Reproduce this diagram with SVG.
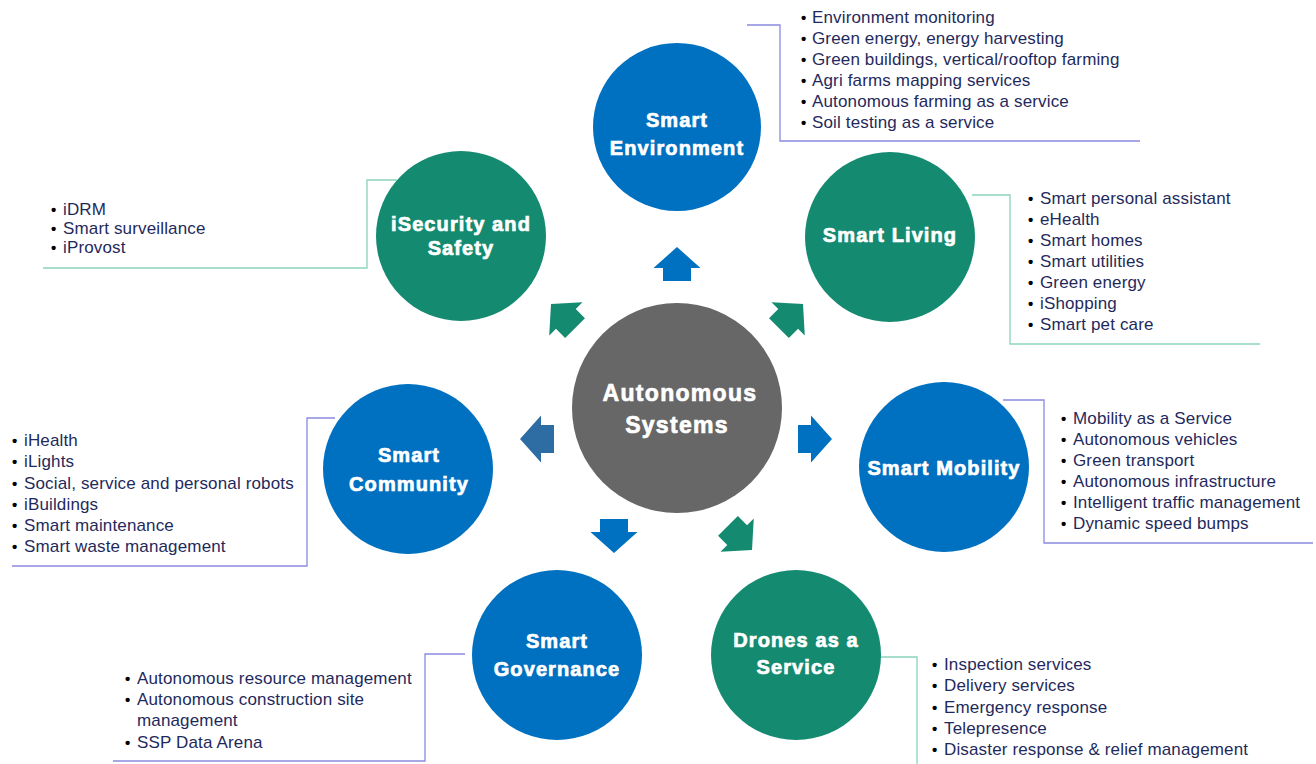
<svg xmlns="http://www.w3.org/2000/svg" width="1316" height="764" viewBox="0 0 1316 764">
<style>
.bl{fill:#0070c0}
.gr{fill:#148a70}
.ttl{font-family:"Liberation Sans",Arial,sans-serif;font-weight:bold;font-size:20px;fill:#fff;stroke:#fff;stroke-width:0.7px;letter-spacing:1.1px;text-anchor:middle}
.ctr{font-size:23px;letter-spacing:1.3px}
.li{font-family:"Liberation Sans",Arial,sans-serif;font-size:17px;letter-spacing:0.15px;fill:#1f2a5c}
.bu{fill:#000;font-weight:bold;font-size:15px}
.cb{fill:none;stroke:#8a8ae0;stroke-width:1.3}
.cg{fill:none;stroke:#8ad3bf;stroke-width:1.3}
</style>
<defs>
<path id="arr" d="M0,0 L23.5,21 L14,21 L14,34 L-14,34 L-14,21 L-23.5,21 Z"/>
</defs>
<rect width="1316" height="764" fill="#fff"/>
<g id="connectors">
<polyline class="cb" points="747,25 780,25 780,141 1140,141"/>
<polyline class="cg" points="972,195 1010,195 1010,344 1260,344"/>
<polyline class="cb" points="1003,400 1044,400 1044,543 1313,543"/>
<polyline class="cb" points="335,418 307,418 307,566 12,566"/>
<polyline class="cb" points="465,654 425,654 425,761 113,761"/>
<polyline class="cg" points="880,657 917,657 917,764"/>
<polyline class="cg" points="397,180 367,180 367,268 43,268"/>
<use href="#arr" transform="translate(677,247)" fill="#0070c0"/>
<use href="#arr" transform="translate(832,439) rotate(90)" fill="#0070c0"/>
<use href="#arr" transform="translate(520,439) rotate(-90)" fill="#2e6da4"/>
<use href="#arr" transform="translate(614,553) rotate(180)" fill="#0070c0"/>
<use href="#arr" transform="translate(551,304) rotate(-45)" fill="#148a70"/>
<use href="#arr" transform="translate(803,304) rotate(45)" fill="#148a70"/>
<use href="#arr" transform="translate(752,550) rotate(135)" fill="#148a70"/>
</g>
<g id="center">
<circle cx="677" cy="408" r="105" fill="#676767"/>
<text class="ttl ctr" x="680" y="401">Autonomous</text>
<text class="ttl ctr" x="677" y="433">Systems</text>
</g>
<g id="environment">
<circle class="bl" cx="677" cy="127" r="84"/>
<text class="ttl" x="677" y="127">Smart</text>
<text class="ttl" x="677" y="155">Environment</text>
</g>
<g id="living">
<circle class="gr" cx="890" cy="237" r="85"/>
<text class="ttl" x="890" y="242">Smart Living</text>
</g>
<g id="mobility">
<circle class="bl" cx="944" cy="467" r="85"/>
<text class="ttl" x="944" y="475">Smart Mobility</text>
</g>
<g id="drones">
<circle class="gr" cx="796" cy="655" r="85"/>
<text class="ttl" x="796" y="647">Drones as a</text>
<text class="ttl" x="796" y="674">Service</text>
</g>
<g id="governance">
<circle class="bl" cx="557" cy="655" r="85"/>
<text class="ttl" x="557" y="648">Smart</text>
<text class="ttl" x="557" y="676">Governance</text>
</g>
<g id="community">
<circle class="bl" cx="408" cy="469" r="85"/>
<text class="ttl" x="409" y="462">Smart</text>
<text class="ttl" x="409" y="491">Community</text>
</g>
<g id="security">
<circle class="gr" cx="461" cy="236" r="85"/>
<text class="ttl" x="461" y="231">iSecurity and</text>
<text class="ttl" x="461" y="255">Safety</text>
</g>
<g id="list-environment" class="li">
<text x="801" y="23"><tspan class="bu">•</tspan><tspan x="812">Environment monitoring</tspan></text>
<text x="801" y="44"><tspan class="bu">•</tspan><tspan x="812">Green energy, energy harvesting</tspan></text>
<text x="801" y="65"><tspan class="bu">•</tspan><tspan x="812">Green buildings, vertical/rooftop farming</tspan></text>
<text x="801" y="86"><tspan class="bu">•</tspan><tspan x="812">Agri farms mapping services</tspan></text>
<text x="801" y="107"><tspan class="bu">•</tspan><tspan x="812">Autonomous farming as a service</tspan></text>
<text x="801" y="128"><tspan class="bu">•</tspan><tspan x="812">Soil testing as a service</tspan></text>
</g>
<g id="list-living" class="li">
<text x="1028" y="204"><tspan class="bu">•</tspan><tspan x="1040">Smart personal assistant</tspan></text>
<text x="1028" y="225"><tspan class="bu">•</tspan><tspan x="1040">eHealth</tspan></text>
<text x="1028" y="246"><tspan class="bu">•</tspan><tspan x="1040">Smart homes</tspan></text>
<text x="1028" y="267"><tspan class="bu">•</tspan><tspan x="1040">Smart utilities</tspan></text>
<text x="1028" y="288"><tspan class="bu">•</tspan><tspan x="1040">Green energy</tspan></text>
<text x="1028" y="309"><tspan class="bu">•</tspan><tspan x="1040">iShopping</tspan></text>
<text x="1028" y="330"><tspan class="bu">•</tspan><tspan x="1040">Smart pet care</tspan></text>
</g>
<g id="list-mobility" class="li">
<text x="1061" y="424"><tspan class="bu">•</tspan><tspan x="1073">Mobility as a Service</tspan></text>
<text x="1061" y="445"><tspan class="bu">•</tspan><tspan x="1073">Autonomous vehicles</tspan></text>
<text x="1061" y="466"><tspan class="bu">•</tspan><tspan x="1073">Green transport</tspan></text>
<text x="1061" y="487"><tspan class="bu">•</tspan><tspan x="1073">Autonomous infrastructure</tspan></text>
<text x="1061" y="508"><tspan class="bu">•</tspan><tspan x="1073">Intelligent traffic management</tspan></text>
<text x="1061" y="529"><tspan class="bu">•</tspan><tspan x="1073">Dynamic speed bumps</tspan></text>
</g>
<g id="list-community" class="li">
<text x="12" y="446"><tspan class="bu">•</tspan><tspan x="24">iHealth</tspan></text>
<text x="12" y="467"><tspan class="bu">•</tspan><tspan x="24">iLights</tspan></text>
<text x="12" y="489"><tspan class="bu">•</tspan><tspan x="24">Social, service and personal robots</tspan></text>
<text x="12" y="510"><tspan class="bu">•</tspan><tspan x="24">iBuildings</tspan></text>
<text x="12" y="531"><tspan class="bu">•</tspan><tspan x="24">Smart maintenance</tspan></text>
<text x="12" y="552"><tspan class="bu">•</tspan><tspan x="24">Smart waste management</tspan></text>
</g>
<g id="list-governance" class="li">
<text x="125" y="684"><tspan class="bu">•</tspan><tspan x="137">Autonomous resource management</tspan></text>
<text x="125" y="705"><tspan class="bu">•</tspan><tspan x="137">Autonomous construction site</tspan></text>
<text x="137" y="726">management</text>
<text x="125" y="748"><tspan class="bu">•</tspan><tspan x="137">SSP Data Arena</tspan></text>
</g>
<g id="list-drones" class="li">
<text x="932" y="670"><tspan class="bu">•</tspan><tspan x="944">Inspection services</tspan></text>
<text x="932" y="691"><tspan class="bu">•</tspan><tspan x="944">Delivery services</tspan></text>
<text x="932" y="713"><tspan class="bu">•</tspan><tspan x="944">Emergency response</tspan></text>
<text x="932" y="734"><tspan class="bu">•</tspan><tspan x="944">Telepresence</tspan></text>
<text x="932" y="755"><tspan class="bu">•</tspan><tspan x="944">Disaster response &amp; relief management</tspan></text>
</g>
<g id="list-security" class="li">
<text x="51" y="215"><tspan class="bu">•</tspan><tspan x="63">iDRM</tspan></text>
<text x="51" y="234"><tspan class="bu">•</tspan><tspan x="63">Smart surveillance</tspan></text>
<text x="51" y="253"><tspan class="bu">•</tspan><tspan x="63">iProvost</tspan></text>
</g>
</svg>
